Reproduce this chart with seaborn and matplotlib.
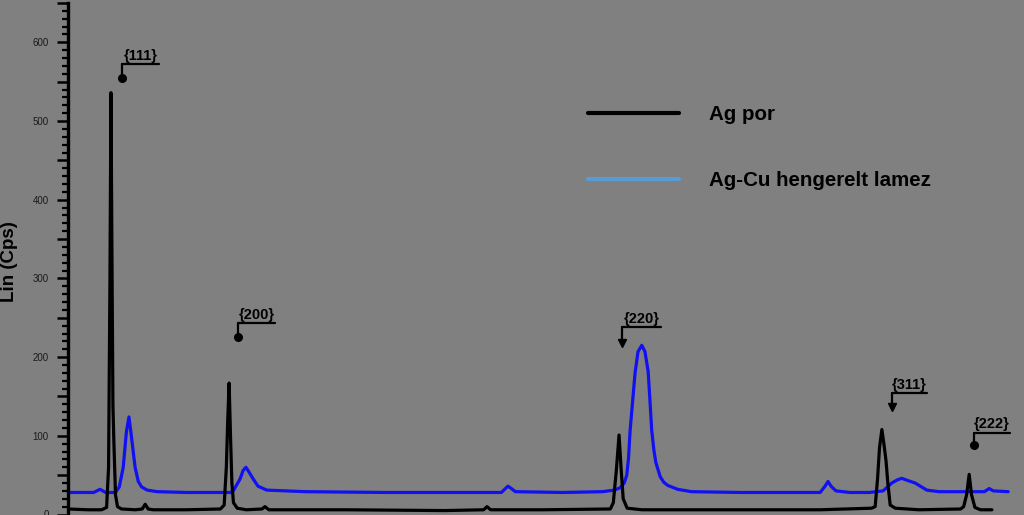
# XRD pattern: Ag powder vs rolled Ag-Cu sheet

import matplotlib
matplotlib.use('Agg')
import matplotlib.pyplot as plt
import seaborn as sns
import pandas as pd
from matplotlib.lines import Line2D
from matplotlib.ticker import MultipleLocator, FuncFormatter

# -- data (2theta in degrees, intensity in Cps) --

ag_por_2theta = [36.0, 37.0, 37.7, 37.95, 38.05, 38.12, 38.17, 38.22, 38.27, 38.32,
                 38.40, 38.50, 38.70, 39.40, 39.75, 39.90, 40.05, 40.30, 42.00, 43.70,
                 43.89, 44.00, 44.07, 44.14, 44.21, 44.28, 44.36, 44.55, 45.00, 45.80,
                 45.95, 46.15, 50.00, 55.00, 57.00, 57.17, 57.35, 60.00, 63.40, 63.55,
                 63.70, 63.84, 63.94, 64.05, 64.25, 65.00, 70.00, 74.00, 76.60, 76.78,
                 76.90, 77.00, 77.12, 77.22, 77.33, 77.42, 77.54, 77.80, 79.00, 81.10,
                 81.25, 81.40, 81.53, 81.65, 81.82, 82.10, 82.68]
ag_por_cps = [7, 6, 6, 9, 60, 300, 536, 330, 138, 90,
              25, 10, 7, 6, 7, 13, 7, 6, 6, 7,
              12, 60, 120, 167, 100, 40, 15, 8, 6, 7,
              10, 6, 6, 5, 6, 10, 6, 6, 7, 15,
              55, 101, 60, 20, 8, 6, 6, 6, 8, 10,
              45, 85, 108, 90, 68, 40, 12, 8, 6, 7,
              10, 25, 51, 25, 9, 6, 6]

agcu_2theta = [36.0, 37.30, 37.62, 37.90, 38.40, 38.59, 38.79, 38.95, 39.08, 39.20,
               39.39, 39.55, 39.72, 40.00, 40.50, 42.00, 44.20, 44.35, 44.69, 44.85,
               44.99, 45.12, 45.36, 45.60, 46.04, 48.00, 52.00, 56.00, 57.90, 58.10,
               58.23, 58.40, 58.60, 61.00, 63.00, 63.60, 63.90, 64.10, 64.23, 64.32,
               64.40, 64.52, 64.65, 64.80, 64.99, 65.15, 65.31, 65.40, 65.49, 65.60,
               65.70, 65.92, 66.10, 66.30, 66.80, 67.50, 70.00, 74.00, 74.25, 74.40,
               74.55, 74.80, 75.50, 76.50, 77.18, 77.62, 77.90, 78.12, 78.45, 78.80,
               79.39, 80.00, 82.30, 82.54, 82.75, 83.50]
agcu_cps = [28, 28, 32, 28, 28, 35, 60, 105, 124, 100,
            60, 42, 35, 31, 29, 28, 28, 30, 45, 56,
            60, 55, 45, 36, 31, 29, 28, 28, 28, 33,
            36, 33, 29, 28, 29, 31, 34, 40, 50, 72,
            107, 142, 180, 207, 215, 207, 182, 146, 107, 82,
            66, 48, 41, 37, 32, 29, 28, 28, 36, 42,
            36, 30, 28, 28, 30, 40, 44, 46, 43, 40,
            31, 29, 29, 33, 30, 29]

series_names = ['Ag por', 'Ag-Cu hengerelt lamez']
peak_labels = ['{111}', '{200}', '{220}', '{311}', '{222}']

# label bracket: corner x, right end x, underline y, tip y, tip marker
peak_marks = [(38.73, 40.60, 572, 551, 'o'),
              (44.59, 46.46, 243, 222, 'o'),
              (63.98, 65.97, 238, 214, 'v'),
              (77.62, 79.40, 154, 132, 'v'),
              (81.78, 83.60, 104, 84, 'o')]

# -- plot --

BG = '#808080'
sns.set_theme(style='white', rc={'axes.facecolor': BG, 'figure.facecolor': BG})
plt.rcParams['font.family'] = ['Liberation Sans', 'DejaVu Sans']

df = pd.concat([
    pd.DataFrame({'2theta': ag_por_2theta, 'cps': ag_por_cps, 'series': series_names[0]}),
    pd.DataFrame({'2theta': agcu_2theta, 'cps': agcu_cps, 'series': series_names[1]}),
])

fig = plt.figure(figsize=(10.24, 5.15), dpi=100)
ax = fig.add_axes([68 / 1024, 0.5 / 515, 1 - 68 / 1024, 511.5 / 515])

sns.lineplot(data=df, x='2theta', y='cps', hue='series', estimator=None,
             palette={series_names[0]: 'black', series_names[1]: '#1010f2'},
             hue_order=series_names[::-1], lw=2.3, legend=False, ax=ax)

ax.set_xlim(36, 84.3)
ax.set_ylim(0, 650)
ax.set_xticks([])
ax.set_xlabel('')

for s in ['top', 'right', 'bottom']:
    ax.spines[s].set_visible(False)
ax.spines['left'].set_color('black')
ax.spines['left'].set_linewidth(2.4)

ax.yaxis.set_major_locator(MultipleLocator(50))
ax.yaxis.set_minor_locator(MultipleLocator(10))
ax.yaxis.set_major_formatter(FuncFormatter(lambda v, p: '%d' % v if v % 100 == 0 else ''))
ax.tick_params(axis='y', which='major', left=True, length=8, width=1.8,
               direction='out', labelsize=7, pad=6, colors='black', labelcolor='#1a1a1a')
ax.tick_params(axis='y', which='minor', left=True, length=4.5, width=1.6,
               direction='out', colors='black')

ax.set_ylabel('Lin (Cps)', fontsize=13.5, fontweight='bold', color='black')
ax.yaxis.set_label_coords(-50 / 956, 0.495)

# peak labels with brackets
for lab, (x0, x1, yl, yt, mk) in zip(peak_labels, peak_marks):
    ax.text((x0 + x1) / 2, yl + 2, lab, ha='center', va='bottom', fontsize=10.5,
            fontweight='bold', color='black')
    ax.plot([x0, x1], [yl, yl], color='black', lw=1.6)
    ax.plot([x0, x0], [yl, yt + 4], color='black', lw=1.6)
    ax.plot([x0], [yt + 4], marker=mk, color='black', ms=5.5)

# legend
handles = [Line2D([], [], color='black', lw=3),
           Line2D([], [], color='#5b9bd5', lw=3)]
ax.legend(handles, series_names, loc='upper left', bbox_to_anchor=(0.544, 0.80),
          frameon=False, borderpad=0, borderaxespad=0, handlelength=4.4,
          handletextpad=1.46, labelspacing=2.26, labelcolor='black',
          prop={'size': 14.8, 'weight': 'bold'})

plt.savefig('out.png', dpi=100, facecolor=BG)
